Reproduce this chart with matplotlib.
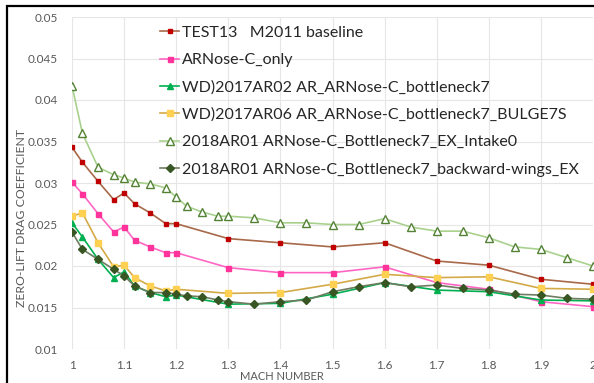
import matplotlib.pyplot as plt
from matplotlib.patches import Rectangle


OUTPUT_FILE = "out.png"

MACH_SHORT = [
    1.0, 1.02, 1.05, 1.08, 1.1, 1.12, 1.15, 1.18, 1.2,
    1.3, 1.4, 1.5, 1.6, 1.7, 1.8, 1.9, 2.0,
]

MACH_LONG = [
    1.0, 1.02, 1.05, 1.08, 1.1, 1.12, 1.15, 1.18, 1.2,
    1.22, 1.25, 1.28, 1.3, 1.35, 1.4, 1.45, 1.5, 1.55,
    1.6, 1.65, 1.7, 1.75, 1.8, 1.85, 1.9, 1.95, 2.0,
]

TEST13_BASELINE = [
    0.0343, 0.0325, 0.0302, 0.0280, 0.0288, 0.0275, 0.0264, 0.0251, 0.0251,
    0.0233, 0.0228, 0.0223, 0.0228, 0.0206, 0.0201, 0.0184, 0.0178,
]

ARNOSE_ONLY = [
    0.0301, 0.0287, 0.0263, 0.0241, 0.0247, 0.0231, 0.0223, 0.0216, 0.0216,
    0.0198, 0.0192, 0.0192, 0.0199, 0.0180, 0.0172, 0.0157, 0.0151,
]

AR02_BOTTLENECK = [
    0.0252, 0.0235, 0.0208, 0.0186, 0.0193, 0.0176, 0.0168, 0.0163, 0.0165,
    0.0154, 0.0155, 0.0166, 0.0180, 0.0171, 0.0169, 0.0159, 0.0158,
]

AR06_BULGE = [
    0.0260, 0.0264, 0.0228, 0.0199, 0.0201, 0.0186, 0.0176, 0.0170, 0.0172,
    0.0167, 0.0168, 0.0178, 0.0190, 0.0186, 0.0187, 0.0173, 0.0172,
]

AR01_INTAKE0 = [
    0.0417, 0.0360, 0.0319, 0.0310, 0.0306, 0.0301, 0.0299, 0.0294, 0.0283,
    0.0272, 0.0265, 0.0260, 0.0260, 0.0258, 0.0252, 0.0252, 0.0250, 0.0250,
    0.0257, 0.0247, 0.0242, 0.0242, 0.0234, 0.0223, 0.0220, 0.0210, 0.0200,
]

AR01_BACKWARD = [
    0.0241, 0.0220, 0.0208, 0.0196, 0.0188, 0.0176, 0.0168, 0.0168, 0.0166,
    0.0164, 0.0163, 0.0159, 0.0157, 0.0154, 0.0157, 0.0159, 0.0169, 0.0175,
    0.0180, 0.0175, 0.0177, 0.0173, 0.0171, 0.0166, 0.0165, 0.0161, 0.0160,
]

SERIES_LABELS = [
    "TEST13   M2011 baseline",
    "ARNose-C_only",
    "WD)2017AR02 AR_ARNose-C_bottleneck7",
    "WD)2017AR06 AR_ARNose-C_bottleneck7_BULGE7S",
    "2018AR01 ARNose-C_Bottleneck7_EX_Intake0",
    "2018AR01 ARNose-C_Bottleneck7_backward-wings_EX",
]

X_TICKS = [1.0, 1.1, 1.2, 1.3, 1.4, 1.5, 1.6, 1.7, 1.8, 1.9, 2.0]
X_TICK_LABELS = ["1", "1.1", "1.2", "1.3", "1.4", "1.5", "1.6",
                 "1.7", "1.8", "1.9", "2"]
Y_TICKS = [0.01, 0.015, 0.02, 0.025, 0.03, 0.035, 0.04, 0.045, 0.05]
Y_TICK_LABELS = ["0.01", "0.015", "0.02", "0.025", "0.03", "0.035",
                 "0.04", "0.045", "0.05"]

FONT = ["Lato", "DejaVu Sans"]
TEXT_GREY = "#595959"


def main() -> None:
    plt.rcParams["font.family"] = FONT

    figure = plt.figure(figsize=(5.94, 3.83), dpi=100)

    # outer chart border, cropped on the right and bottom
    figure.patches.append(
        Rectangle(
            (7 / 594, -0.1),
            1.2,
            1.1 - 6 / 383,
            transform=figure.transFigure,
            fill=False,
            edgecolor="black",
            linewidth=1.6,
        )
    )

    axes = figure.add_axes(
        [72 / 594, 34 / 383, 521 / 594, 332 / 383]
    )

    styles = [
        dict(color="#A8694A", marker="s", markersize=3,
             markerfacecolor="#C00000", markeredgecolor="#C00000"),
        dict(color="#FF66C4", marker="s", markersize=3.6,
             markerfacecolor="#FF3399", markeredgecolor="#FF3399"),
        dict(color="#00B050", marker="^", markersize=5,
             markerfacecolor="#00B050", markeredgecolor="#00B050"),
        dict(color="#D4AA48", marker="s", markersize=4.6,
             markerfacecolor="#FFD052", markeredgecolor="#FFD052"),
        dict(color="#A9D18E", marker="^", markersize=6,
             markerfacecolor="white", markeredgecolor="#548235",
             markeredgewidth=1.0),
        dict(color="#6E7D60", marker="D", markersize=3.8,
             markerfacecolor="#375623", markeredgecolor="#375623"),
    ]

    series = [
        (MACH_SHORT, TEST13_BASELINE),
        (MACH_SHORT, ARNOSE_ONLY),
        (MACH_SHORT, AR02_BOTTLENECK),
        (MACH_SHORT, AR06_BULGE),
        (MACH_LONG, AR01_INTAKE0),
        (MACH_LONG, AR01_BACKWARD),
    ]

    for (mach, values), label, style in zip(series, SERIES_LABELS, styles):
        axes.plot(mach, values, label=label, linewidth=1.2, **style)

    axes.set_xlim(1.0, 2.0)
    axes.set_ylim(0.01, 0.05)

    axes.set_xticks(X_TICKS)
    axes.set_xticklabels(X_TICK_LABELS)
    axes.set_yticks(Y_TICKS)
    axes.set_yticklabels(Y_TICK_LABELS)

    axes.tick_params(
        axis="both",
        length=0,
        labelsize=8.5,
        labelcolor=TEXT_GREY,
    )
    axes.tick_params(axis="x", pad=8)
    axes.tick_params(axis="y", pad=10)

    for spine in axes.spines.values():
        spine.set_visible(False)

    axes.grid(color="#E6E6E6", linewidth=0.8)
    axes.set_axisbelow(True)

    figure.text(
        282 / 594, 6 / 383, "MACH NUMBER",
        ha="center", va="center", fontsize=8, color=TEXT_GREY,
    )
    figure.text(
        22 / 594, 1 - 218 / 383, "ZERO-LIFT DRAG COEFFICIENT",
        ha="center", va="center", rotation=90,
        fontsize=8.8, color=TEXT_GREY,
    )

    axes.legend(
        loc="upper left",
        bbox_to_anchor=(0.157, 0.993),
        frameon=False,
        fontsize=11.5,
        handlelength=1.2,
        handletextpad=0.15,
        labelspacing=0.82,
        borderaxespad=0,
        labelcolor="#262626",
    )

    figure.savefig(OUTPUT_FILE, dpi=100)
    plt.close(figure)


if __name__ == "__main__":
    main()
